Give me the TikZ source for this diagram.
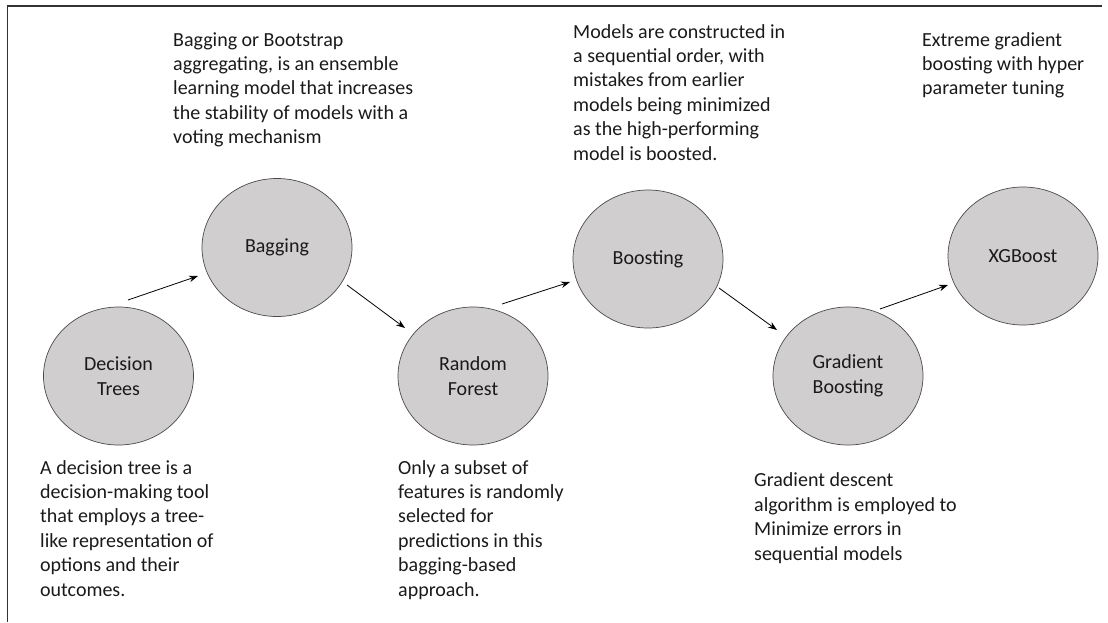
\documentclass[tikz,border=0pt]{standalone}
\usepackage{fontspec}
\setmainfont{Carlito}
\usetikzlibrary{shapes.geometric,arrows.meta}
\definecolor{modelfill}{HTML}{D0CECE}
\definecolor{modelline}{HTML}{4A4A4A}
\definecolor{textcol}{HTML}{1A1A1A}
\begin{document}
\begin{tikzpicture}[x=1pt,y=-1pt,
  model/.style={ellipse, draw=modelline, line width=0.7pt, fill=modelfill,
    minimum width=150pt, minimum height=138pt, inner sep=0pt, align=center,
    text=textcol, font=\fontsize{20}{25}\selectfont},
  desc/.style={anchor=base west, align=left, inner sep=0pt, text=textcol,
    font=\fontsize{20}{24.4}\selectfont},
  arr/.style={-{Stealth[length=9pt,width=6.5pt]}, line width=0.8pt, black}]
\useasboundingbox (0,0) rectangle (1108,622);
% frame (cropped)
\draw[line width=1.4pt, black!80] (1102,6) -- (7.5,6) -- (7.5,622);

% models
\node[model] (dt)  at (118.5,376) {Decision\\Trees};
\node[model] (bag) at (277,247.5) {Bagging};
\node[model] (rf)  at (473,376)   {Random\\Forest};
\node[model] (bst) at (648,259)   {Boosting};
\node[model] (gb)  at (848,376)   {Gradient\\Boosting};
\node[model] (xgb) at (1023,256)  {XGBoost};

% connectors
\draw[arr] ([shift={(9.5,-76)}]dt.center) -- ([shift={(-79,28.5)}]bag.center);
\draw[arr] ([shift={(70,37.5)}]bag.center) -- ([shift={(-68,-48)}]rf.center);
\draw[arr] ([shift={(29,-72)}]rf.center) -- ([shift={(-78,23)}]bst.center);
\draw[arr] ([shift={(71,29)}]bst.center) -- ([shift={(-71,-46)}]gb.center);
\draw[arr] ([shift={(32,-67)}]gb.center) -- ([shift={(-75,29)}]xgb.center);

% descriptions (anchor = baseline of the last line)
\node[desc] (tbag) at (173,143.6) {Bagging or Bootstrap\\aggregating, is an ensemble\\learning model that increases\\the stability of models with a\\voting mechanism};
\node[desc] (tbst) at (573,160) {Models are constructed in\\a sequential order, with\\mistakes from earlier\\models being minimized\\as the high-performing\\model is boosted.};
\node[desc] (txgb) at (922,94.8) {Extreme gradient\\boosting with hyper\\parameter tuning};
\node[desc] (tdt) at (40,596) {A decision tree is a\\decision-making tool\\that employs a tree-\\like representation of\\options and their\\outcomes.};
\node[desc] (trf) at (398,596) {Only a subset of\\features is randomly\\selected for\\predictions in this\\bagging-based\\approach.};
\node[desc] (tgb) at (754,560) {Gradient descent\\algorithm is employed to\\Minimize errors in\\sequential models};
\end{tikzpicture}
\end{document}
